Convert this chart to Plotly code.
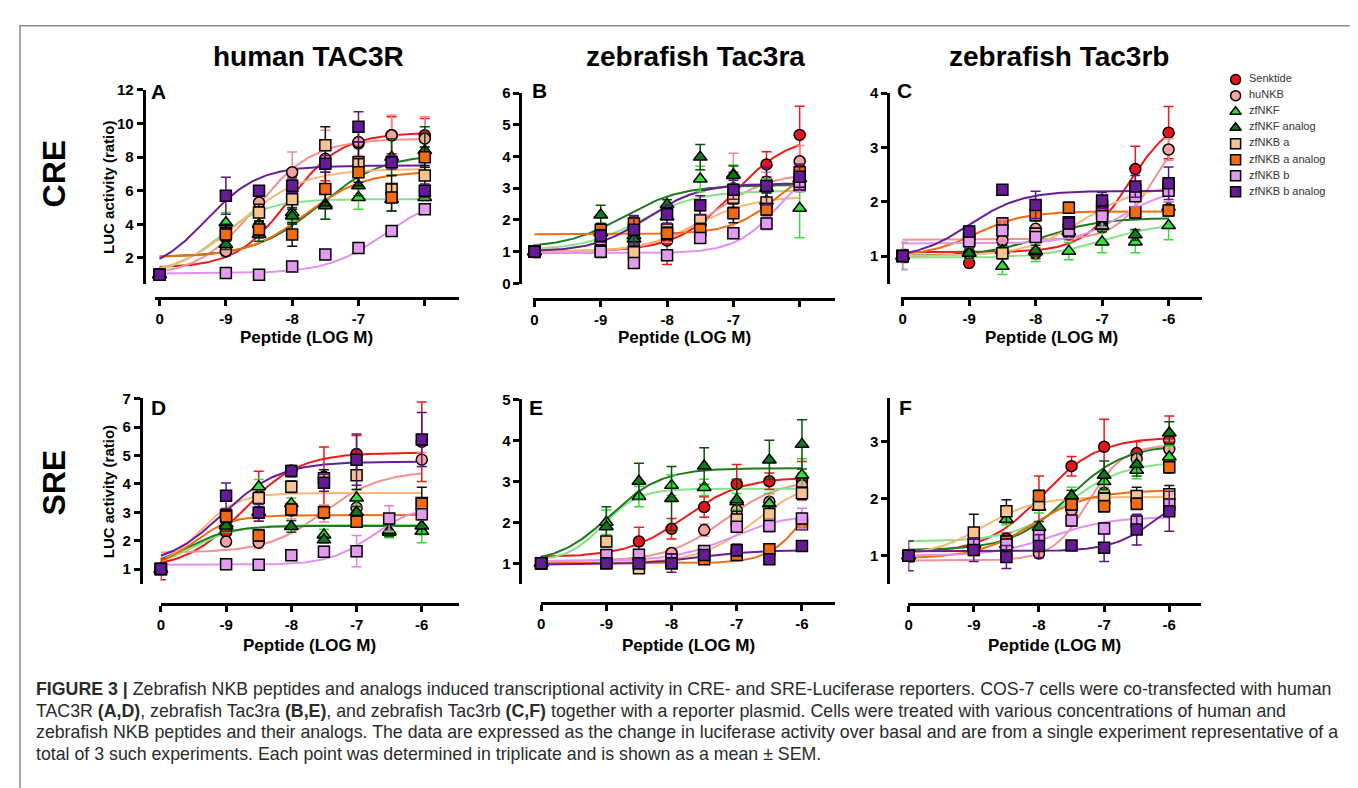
import numpy as np
import plotly.graph_objects as go

W, H = 1358, 788

# ---------------- data ----------------
SERIES = ["Senktide", "huNKB", "zfNKF", "zfNKF analog", "zfNKB a",
          "zfNKB a analog", "zfNKB b", "zfNKB b analog"]
LOG_DOSE = [-10, -9, -8.5, -8, -7.5, -7, -6.5, -6]   # basal ("0") plotted at -10
X_TICK_VALS = [-10, -9, -8, -7, -6]
X_TICK_TEXT_TOP = ["0", "-9", "-8", "-7", ""]
X_TICK_TEXT_BOTTOM = ["0", "-9", "-8", "-7", "-6"]

# Panel A  human TAC3R / CRE   (rows follow SERIES order)
A_MEAN = [
    [1.0, 2.4, 3.9, 6.0, 7.6, 8.8, 9.3, 9.3],
    [1.0, 2.4, 5.3, 7.1, 7.9, 8.9, 9.3, 9.1],
    [1.0, 4.1, 4.0, 4.7, 5.2, 5.6, 5.5, 5.6],
    [1.0, 2.8, 3.4, 4.5, 5.1, 6.3, 8.0, 8.4],
    [1.0, 3.5, 4.7, 5.5, 8.7, 7.7, 6.1, 6.9],
    [1.0, 3.4, 3.7, 3.4, 6.1, 7.1, 5.6, 8.0],
    [1.0, 1.1, 1.0, 1.5, 2.2, 2.6, 3.6, 4.9],
    [1.0, 5.7, 6.0, 6.3, 7.6, 9.8, 7.7, 6.0],
]
A_SEM = [
    [0.1, 0.3, 0.6, 0.8, 1.0, 0.9, 1.1, 1.0],
    [0.1, 0.3, 0.5, 1.2, 1.7, 0.8, 1.2, 1.3],
    [0.1, 0.6, 0.6, 0.5, 0.9, 0.7, 0.7, 0.2],
    [0.1, 0.3, 0.4, 0.5, 0.8, 0.6, 1.1, 1.4],
    [0.1, 0.5, 0.5, 0.6, 1.1, 1.2, 0.8, 0.6],
    [0.1, 0.4, 0.5, 0.7, 1.0, 0.8, 0.8, 0.6],
    [0.05, 0.1, 0.1, 0.1, 0.15, 0.2, 0.2, 0.2],
    [0.1, 1.1, 0.3, 0.4, 0.5, 0.9, 0.4, 0.4],
]
# fitted curve: bottom, top, logEC50, hill
A_FIT = [
    [1.4, 9.45, -8.05, 1.1],
    [0.9, 9.1, -8.55, 1.0],
    [1.0, 5.5, -9.1, 1.2],
    [2.05, 8.2, -7.6, 0.9],
    [0.9, 7.3, -8.8, 0.9],
    [2.05, 7.15, -7.8, 1.0],
    [1.08, 5.8, -6.6, 1.0],
    [1.0, 7.5, -9.3, 1.1],
]

# Panel B  zebrafish Tac3ra / CRE
B_MEAN = [
    [1.0, 1.05, 1.1, 1.35, 2.0, 3.0, 3.75, 4.68],
    [1.0, 1.3, 1.2, 1.6, 1.85, 2.8, 3.2, 3.85],
    [1.0, 1.6, 1.5, 2.1, 3.29, 3.43, 3.0, 2.37],
    [1.0, 2.16, 1.4, 2.49, 3.98, 3.4, 2.6, 3.3],
    [1.0, 1.02, 0.98, 1.7, 2.0, 2.7, 2.55, 3.1],
    [1.0, 1.69, 1.89, 1.58, 1.7, 2.21, 2.33, 3.5],
    [1.0, 1.0, 0.64, 0.89, 1.43, 1.58, 1.89, 3.2],
    [1.0, 1.5, 1.69, 2.18, 2.46, 2.95, 3.07, 3.36],
]
B_SEM = [
    [0.2, 0.2, 0.2, 0.75, 0.3, 0.5, 0.4, 0.9],
    [0.2, 0.2, 0.2, 0.3, 0.3, 1.3, 0.3, 0.5],
    [0.15, 0.3, 0.3, 0.3, 0.4, 0.3, 0.3, 0.93],
    [0.15, 0.3, 0.3, 0.15, 0.4, 0.3, 0.3, 0.3],
    [0.15, 0.2, 0.2, 0.2, 0.3, 0.3, 0.3, 0.2],
    [0.15, 0.2, 0.2, 0.2, 0.2, 0.3, 0.2, 0.2],
    [0.1, 0.1, 0.1, 0.1, 0.15, 0.15, 0.2, 0.3],
    [0.15, 0.2, 0.45, 0.3, 0.3, 0.3, 0.6, 0.4],
]
B_FIT = [
    [1.0, 4.7, -7.0, 1.0],
    [1.0, 3.5, -7.3, 1.0],
    [1.05, 2.92, -8.4, 1.0],
    [1.12, 3.1, -8.65, 1.0],
    [0.98, 2.75, -7.55, 1.0],
    [1.55, 4.0, -6.3, 1.2],
    [0.95, 4.0, -6.3, 1.3],
    [1.0, 3.15, -8.3, 1.1],
]

# Panel C  zebrafish Tac3rb / CRE
C_MEAN = [
    [1.0, 0.87, 1.1, 1.05, 1.4, 1.6, 2.6, 3.27],
    [1.0, 1.05, 1.29, 1.5, 1.45, 1.53, 2.11, 2.96],
    [1.0, 1.05, 0.81, 1.08, 1.09, 1.26, 1.26, 1.56],
    [1.0, 1.05, 1.1, 1.1, 1.45, 1.55, 1.39, 1.9],
    [1.0, 1.3, 1.05, 1.41, 1.62, 1.9, 2.2, 2.3],
    [1.0, 1.4, 1.6, 1.75, 1.89, 1.8, 1.8, 1.84],
    [1.0, 1.27, 1.47, 1.35, 1.47, 1.73, 2.1, 2.2],
    [1.0, 1.45, 2.22, 1.94, 1.6, 2.02, 2.28, 2.34],
]
C_SEM = [
    [0.12, 0.05, 0.1, 0.1, 0.1, 0.1, 0.42, 0.48],
    [0.1, 0.1, 0.1, 0.15, 0.1, 0.1, 0.2, 0.2],
    [0.25, 0.1, 0.15, 0.18, 0.16, 0.2, 0.2, 0.26],
    [0.1, 0.1, 0.1, 0.1, 0.1, 0.1, 0.1, 0.1],
    [0.1, 0.1, 0.1, 0.1, 0.1, 0.1, 0.1, 0.1],
    [0.1, 0.1, 0.1, 0.1, 0.1, 0.1, 0.1, 0.1],
    [0.25, 0.1, 0.2, 0.1, 0.15, 0.2, 0.2, 0.2],
    [0.1, 0.1, 0.08, 0.25, 0.1, 0.15, 0.2, 0.3],
]
C_FIT = [
    [1.07, 3.6, -6.6, 1.3],
    [1.3, 3.6, -6.2, 1.5],
    [0.97, 1.6, -7.0, 1.0],
    [1.0, 1.7, -7.9, 1.0],
    [1.0, 2.3, -7.3, 1.0],
    [1.0, 1.82, -8.9, 1.2],
    [1.23, 2.25, -6.7, 1.2],
    [0.95, 2.2, -9.0, 1.1],
]

# Panel D  human TAC3R / SRE
D_MEAN = [
    [1.0, 2.3, 3.56, 4.47, 4.25, 5.05, None, 5.48],
    [1.0, 1.97, 1.93, 3.06, 2.96, 3.16, None, 4.85],
    [1.0, 2.6, 3.9, 3.3, 2.2, 3.5, 2.3, 2.33],
    [1.0, 2.52, 3.0, 2.5, 2.03, 3.0, 2.35, 2.52],
    [1.0, 2.9, 3.5, 3.9, 4.2, 4.3, None, 3.33],
    [1.0, 2.85, 2.18, 3.1, 3.0, 2.67, None, 3.3],
    [1.0, 1.17, 1.15, 1.49, 1.61, 1.63, 2.78, 2.93],
    [1.0, 3.58, 2.98, 4.45, 4.04, 4.85, None, 5.56],
]
D_SEM = [
    [0.37, 0.3, 0.88, 0.1, 1.05, 0.65, 0.3, 1.4],
    [0.1, 0.1, 0.2, 0.3, 0.3, 0.3, 0.2, 0.25],
    [0.1, 0.3, 0.25, 0.2, 0.2, 0.3, 0.2, 0.4],
    [0.1, 0.2, 0.2, 0.2, 0.1, 0.2, 0.2, 0.3],
    [0.1, 0.2, 0.2, 0.2, 0.3, 0.5, 0.3, 0.55],
    [0.1, 0.2, 0.2, 0.2, 0.2, 0.2, 0.2, 0.2],
    [0.05, 0.08, 0.08, 0.15, 0.2, 0.55, 0.45, 0.2],
    [0.1, 0.45, 0.3, 0.2, 0.3, 0.9, 0.3, 0.95],
]
D_FIT = [
    [1.0, 5.1, -8.75, 1.0],
    [1.58, 4.45, -7.5, 1.0],
    [1.0, 2.55, -9.5, 1.3],
    [1.0, 2.52, -9.6, 1.3],
    [1.0, 3.68, -9.4, 1.5],
    [1.0, 2.9, -9.5, 1.5],
    [1.15, 3.25, -6.75, 1.3],
    [1.1, 4.78, -9.05, 1.0],
]

# Panel E  zebrafish Tac3ra / SRE
E_MEAN = [
    [1.0, 1.05, 1.53, 1.84, 2.37, 2.93, 3.0, 3.01],
    [1.0, 1.0, 1.1, 1.25, 1.81, 2.29, 2.5, 2.9],
    [1.0, 2.0, 2.63, 2.9, 2.85, 2.5, 2.45, 3.15],
    [1.0, 1.89, 3.0, 2.58, 3.37, 2.55, 3.52, 3.9],
    [1.0, 1.53, 0.88, 1.05, 1.2, 2.07, 2.2, 2.71],
    [1.0, 1.0, 1.0, 1.0, 1.1, 1.2, 1.34, 1.95],
    [1.0, 1.2, 1.21, 1.1, 1.3, 1.89, 1.91, 2.09],
    [1.0, 1.0, 1.0, 1.0, 1.2, 1.32, 1.1, 1.42],
]
E_SEM = [
    [0.1, 0.05, 0.35, 0.25, 0.25, 0.48, 0.2, 0.47],
    [0.1, 0.05, 0.1, 0.1, 0.15, 0.15, 0.2, 0.3],
    [0.1, 0.3, 0.25, 0.25, 0.2, 0.2, 0.25, 0.4],
    [0.1, 0.49, 0.44, 0.78, 0.45, 0.5, 0.48, 0.6],
    [0.1, 0.1, 0.1, 0.1, 0.1, 0.2, 0.2, 0.15],
    [0.05, 0.05, 0.05, 0.05, 0.05, 0.1, 0.1, 0.1],
    [0.1, 0.1, 0.1, 0.1, 0.1, 0.1, 0.15, 0.25],
    [0.05, 0.05, 0.05, 0.22, 0.1, 0.15, 0.1, 0.1],
]
E_FIT = [
    [1.15, 3.1, -7.8, 1.0],
    [1.05, 3.05, -7.2, 1.0],
    [1.05, 2.82, -9.05, 1.6],
    [1.0, 3.32, -8.95, 1.1],
    [1.0, 3.1, -6.7, 1.0],
    [1.0, 3.5, -5.9, 1.5],
    [1.05, 2.2, -7.1, 1.0],
    [0.97, 1.32, -7.6, 1.0],
]

# Panel F  zebrafish Tac3rb / SRE
F_MEAN = [
    [1.0, 1.2, 1.3, 1.9, 2.57, 2.91, 2.8, 3.02],
    [1.0, 1.1, 1.0, 1.04, 1.8, 2.1, 2.7, 2.87],
    [1.0, 1.2, 1.64, 1.85, 2.05, 2.3, 2.5, 2.73],
    [1.0, 1.2, 1.2, 1.5, 2.05, 2.41, 2.6, 3.15],
    [1.0, 1.41, 1.78, 1.9, 1.9, 2.0, 2.05, 2.08],
    [1.0, 1.2, 1.25, 2.05, 1.9, 1.87, 1.91, 2.55],
    [1.0, 1.2, 1.2, 1.35, 1.62, 1.48, 1.6, 1.9],
    [1.0, 1.1, 0.98, 1.17, 1.18, 1.14, 1.46, 1.78],
]
F_SEM = [
    [0.1, 0.1, 0.1, 0.5, 0.17, 0.48, 0.2, 0.43],
    [0.1, 0.1, 0.1, 0.08, 0.1, 0.1, 0.1, 0.15],
    [0.1, 0.1, 0.1, 0.1, 0.15, 0.15, 0.15, 0.2],
    [0.1, 0.1, 0.1, 0.1, 0.1, 0.25, 0.2, 0.2],
    [0.1, 0.32, 0.2, 0.1, 0.1, 0.1, 0.15, 0.15],
    [0.1, 0.1, 0.1, 0.1, 0.1, 0.1, 0.1, 0.1],
    [0.1, 0.1, 0.1, 0.1, 0.1, 0.1, 0.1, 0.1],
    [0.26, 0.2, 0.2, 0.2, 0.05, 0.24, 0.27, 0.35],
]
F_FIT = [
    [1.05, 3.08, -7.95, 1.0],
    [0.92, 2.95, -7.25, 1.6],
    [1.25, 2.65, -7.55, 1.0],
    [1.1, 2.95, -7.55, 1.0],
    [1.0, 2.03, -8.85, 1.1],
    [0.95, 2.15, -8.1, 1.0],
    [1.0, 1.68, -7.8, 1.0],
    [1.08, 2.2, -6.2, 1.3],
]

PANEL_TITLES = ["human TAC3R", "zebrafish Tac3ra", "zebrafish Tac3rb"]
ROW_LABELS = ["CRE", "SRE"]
PANEL_LETTERS = ["A", "B", "C", "D", "E", "F"]
Y_TICKS = [[2, 4, 6, 8, 10, 12], [0, 1, 2, 3, 4, 5, 6], [1, 2, 3, 4],
           [1, 2, 3, 4, 5, 6, 7], [1, 2, 3, 4, 5], [1, 2, 3]]
Y_TITLE = "LUC activity (ratio)"
X_TITLE = "Peptide (LOG M)"
CAPTION = [
    "<b>FIGURE 3 |</b> Zebrafish NKB peptides and analogs induced transcriptional activity in CRE- and SRE-Luciferase reporters. COS-7 cells were co-transfected with human",
    "TAC3R <b>(A,D)</b>, zebrafish Tac3ra <b>(B,E)</b>, and zebrafish Tac3rb <b>(C,F)</b> together with a reporter plasmid. Cells were treated with various concentrations of human and",
    "zebrafish NKB peptides and their analogs. The data are expressed as the change in luciferase activity over basal and are from a single experiment representative of a",
    "total of 3 such experiments. Each point was determined in triplicate and is shown as a mean \u00b1 SEM.",
]

# ---------------- styles ----------------
SYMBOLS = ["circle", "circle", "triangle-up", "triangle-up", "square", "square", "square", "square"]
FILL = ["#e8141c", "#f5a3a0", "#33e033", "#0f7a1a", "#f7c38e", "#f26b10", "#e39bf0", "#651a96"]
CURVE = ["#f01818", "#f59090", "#86e486", "#1f7a1f", "#f7b679", "#f26b10", "#e390f0", "#6a1b9a"]
ERRC = ["#f01818", "#f28a8a", "#33e033", "#0d4d0d", "#111111", "#111111", "#e080e8", "#5a1480"]
MSIZE = [11, 11, 12, 12, 11, 11, 11, 11]

# pixel geometry of each panel: y-axis x, y-domain, two reference ticks, x-axis y, x-domain, px of -10 and -6
GEOM = [
    dict(yx=132, ytop=74.5, ybot=273.3, r1=(12, 74.5), r2=(2, 246.3), xy=287.7, xl=143, xr=448, x10=148, x6=414),
    dict(yx=510, ytop=77.7, ybot=273.0, r1=(6, 77.7), r2=(0, 272.3), xy=288.0, xl=523, xr=825, x10=524, x6=790),
    dict(yx=879, ytop=77.7, ybot=273.0, r1=(4, 77.7), r2=(1, 244.3), xy=287.7, xl=892, xr=1194, x10=893.3, x6=1160),
    dict(yx=129.3, ytop=389.3, ybot=580, r1=(7, 390), r2=(1, 564.3), xy=600, xl=149, xr=448, x10=149.3, x6=411),
    dict(yx=510, ytop=390.7, ybot=580, r1=(5, 390.7), r2=(1, 558.3), xy=599.3, xl=530.7, xr=825.7, x10=530.7, x6=792.3),
    dict(yx=879, ytop=389, ybot=580, r1=(3, 434), r2=(1, 550.7), xy=600, xl=899, xr=1193, x10=899.3, x6=1160.7),
]
LETTER_POS = [(147, 76), (529, 75), (895, 75), (147, 399), (526, 399), (896, 399)]

PANELS = [(A_MEAN, A_SEM, A_FIT), (B_MEAN, B_SEM, B_FIT), (C_MEAN, C_SEM, C_FIT),
          (D_MEAN, D_SEM, D_FIT), (E_MEAN, E_SEM, E_FIT), (F_MEAN, F_SEM, F_FIT)]

BOLD = dict(family="Arial, Liberation Sans", color="black", weight="bold")

fig = go.Figure()
layout = dict(width=W, height=H, margin=dict(l=0, r=0, t=0, b=0),
              paper_bgcolor="white", plot_bgcolor="white", showlegend=False)

xgrid = np.linspace(-10, -6, 161)

for k, ((mean, sem, fit), g) in enumerate(zip(PANELS, GEOM)):
    idx = k + 1
    xs = "x" if idx == 1 else f"x{idx}"
    ys = "y" if idx == 1 else f"y{idx}"
    (v1, p1), (v2, p2) = g["r1"], g["r2"]
    slope = (v2 - v1) / (p2 - p1)
    y_lo = v1 + (g["ybot"] - p1) * slope
    y_hi = v1 + (g["ytop"] - p1) * slope
    ppu = (g["x6"] - g["x10"]) / 4.0
    x_lo = -10 + (g["xl"] - g["x10"]) / ppu
    x_hi = -10 + (g["xr"] - g["x10"]) / ppu

    layout["xaxis" if idx == 1 else f"xaxis{idx}"] = dict(
        domain=[g["xl"] / W, g["xr"] / W], anchor="free", position=1 - g["xy"] / H,
        range=[x_lo, x_hi], tickvals=X_TICK_VALS,
        ticktext=X_TICK_TEXT_TOP if k < 2 else X_TICK_TEXT_BOTTOM,
        showline=True, linewidth=3, linecolor="black", ticks="outside", ticklen=6,
        tickwidth=2.5, tickcolor="black", showgrid=False, zeroline=False,
        tickfont=dict(size=15, **BOLD), fixedrange=True)
    layout["yaxis" if idx == 1 else f"yaxis{idx}"] = dict(
        domain=[1 - g["ybot"] / H, 1 - g["ytop"] / H], anchor="free", position=g["yx"] / W,
        range=[y_lo, y_hi], tickvals=Y_TICKS[k],
        showline=True, linewidth=3, linecolor="black", ticks="outside", ticklen=6,
        tickwidth=2.5, tickcolor="black", showgrid=False, zeroline=False,
        tickfont=dict(size=15, **BOLD), fixedrange=True)

    for s in range(len(SERIES)):
        b, t, ec, h = fit[s]
        yfit = b + (t - b) / (1 + 10 ** ((ec - xgrid) * h))
        fig.add_trace(go.Scatter(x=xgrid, y=yfit, mode="lines", xaxis=xs, yaxis=ys,
                                 line=dict(color=CURVE[s], width=2), hoverinfo="skip"))
    for s in range(len(SERIES)):
        fig.add_trace(go.Scatter(
            x=LOG_DOSE, y=mean[s], mode="markers", xaxis=xs, yaxis=ys, name=SERIES[s],
            cliponaxis=False,
            marker=dict(symbol=SYMBOLS[s], size=MSIZE[s], color=FILL[s],
                        line=dict(color="black", width=1.5)),
            error_y=dict(type="data", array=sem[s], color=ERRC[s], thickness=1.5, width=5)))

# legend drawn on its own small axis (categorical rows)
layout["xaxis7"] = dict(domain=[1218 / W, 1350 / W], anchor="y7", range=[-0.075, 1],
                        visible=False, fixedrange=True)
layout["yaxis7"] = dict(domain=[1 - 186.9 / H, 1 - 55.8 / H], anchor="x7",
                        type="category", range=[7.5, -0.5], visible=False, fixedrange=True)
fig.add_trace(go.Scatter(
    x=[0] * len(SERIES), y=SERIES, xaxis="x7", yaxis="y7", mode="markers+text",
    text=["\u00a0\u00a0" + s for s in SERIES], textposition="middle right",
    textfont=dict(family="Arial, Liberation Sans", size=11, color="#333333"),
    marker=dict(symbol=SYMBOLS, size=10, color=FILL, line=dict(color="black", width=1.5)),
    hoverinfo="skip", cliponaxis=False))

ann = []
title_x = [297, 686, 1050]
for t, x in zip(PANEL_TITLES, title_x):
    ann.append(dict(text=t, x=x / W, y=1 - 40 / H, xref="paper", yref="paper",
                    showarrow=False, xanchor="center", yanchor="middle",
                    font=dict(size=28, **BOLD)))
for lab, y in zip(ROW_LABELS, [160, 476]):
    ann.append(dict(text=lab, x=42 / W, y=1 - y / H, xref="paper", yref="paper",
                    showarrow=False, textangle=-90, xanchor="center", yanchor="middle",
                    font=dict(size=32, **BOLD)))
for lab, (x, y) in zip(PANEL_LETTERS, LETTER_POS):
    ann.append(dict(text=lab, x=x / W, y=1 - y / H, xref="paper", yref="paper",
                    showarrow=False, xanchor="center", yanchor="middle",
                    font=dict(size=21, **BOLD)))
for y in [174, 485]:
    ann.append(dict(text=Y_TITLE, x=97 / W, y=1 - y / H, xref="paper", yref="paper",
                    showarrow=False, textangle=-90, xanchor="center", yanchor="middle",
                    font=dict(size=15, **BOLD)))
for k, g in enumerate(GEOM):
    yy = 328 if k < 3 else 642
    ann.append(dict(text=X_TITLE, x=(g["xl"] + g["xr"]) / 2 / W, y=1 - yy / H,
                    xref="paper", yref="paper", showarrow=False,
                    xanchor="center", yanchor="middle", font=dict(size=17, **BOLD)))
for i, line in enumerate(CAPTION):
    ann.append(dict(text=line, x=22 / W, y=1 - (687 + 22 * i) / H, xref="paper", yref="paper",
                    showarrow=False, xanchor="left", yanchor="middle", align="left",
                    font=dict(family="Liberation Sans, Arial", size=17.75, color="#2a2a2a")))
layout["annotations"] = ann
layout["shapes"] = [dict(type="rect", xref="paper", yref="paper", x0=8 / W, x1=1355 / W,
                         y0=-0.2, y1=1 - 9 / H, line=dict(color="#8a8a8a", width=1.5))]

fig.update_layout(**layout)
fig.write_html("out.html")
